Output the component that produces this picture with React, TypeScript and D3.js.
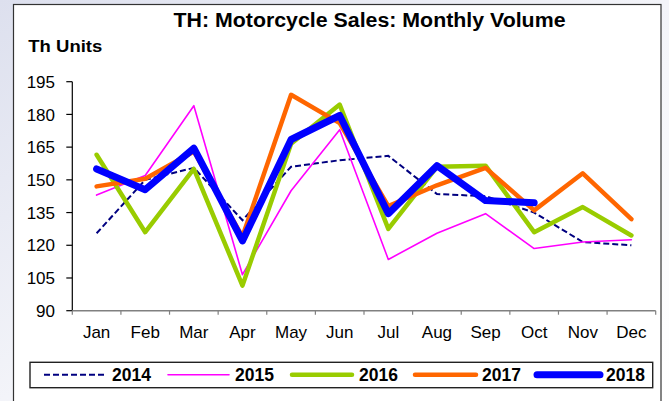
import React from "react";
import * as d3 from "d3";

const months = ["Jan", "Feb", "Mar", "Apr", "May", "Jun", "Jul", "Aug", "Sep", "Oct", "Nov", "Dec"];
const yTicks = [90, 105, 120, 135, 150, 165, 180, 195];

const s2014 = [125.5, 150, 155.5, 131.5, 156, 159, 161, 143.5, 142.5, 135, 121.5, 120];
const s2015 = [143, 152, 184, 106.5, 145, 173, 113.5, 125.5, 134.5, 118.5, 121.5, 122.5];
const s2016 = [161.5, 126, 155, 101.5, 166.5, 184.5, 127.5, 156, 156.5, 126, 137.5, 124.5];
const s2017 = [147, 150.5, 163, 124, 189, 176, 138, 147.5, 155.5, 136, 153, 132];
const s2018 = [155, 145.5, 164.5, 122, 168.5, 179.5, 134.5, 156.5, 140.5, 139.5];

const seriesNames = ["2014", "2015", "2016", "2017", "2018"];

export default function App() {
  const W = 669, H = 401;
  const left = 72.3, right = 655.7, top = 81.7, bottom = 310.7;
  const x = d3.scaleBand<string>().domain(months).range([left, right]).padding(0);
  const y = d3.scaleLinear().domain([90, 195]).range([bottom, top]);
  const cx = (i: number) => (x(months[i]) as number) + x.bandwidth() / 2;
  const line = d3.line<number>().x((_, i) => cx(i)).y((d) => y(d));

  const styles = [
    { data: s2014, color: "#000080", width: 2, dash: "6,3", cap: "butt" },
    { data: s2015, color: "#FF00FF", width: 1.6, dash: undefined, cap: "round" },
    { data: s2016, color: "#99CC00", width: 4.5, dash: undefined, cap: "round" },
    { data: s2017, color: "#FF6600", width: 4.5, dash: undefined, cap: "round" },
    { data: s2018, color: "#0000FF", width: 7, dash: undefined, cap: "round" },
  ];

  const legendItems = [
    { x1: 44, x2: 106, tx: 112 },
    { x1: 168, x2: 229, tx: 235 },
    { x1: 292, x2: 352, tx: 359 },
    { x1: 415, x2: 476, tx: 482 },
    { x1: 537, x2: 600, tx: 606 },
  ];
  const font = "Arial, 'Liberation Sans', sans-serif";

  return (
    <div style={{ position: "fixed", left: 0, top: 0, width: W, height: H, background: "#fff" }}>
      <svg width={W} height={H} style={{ display: "block" }} fontFamily={font}>
        <defs>
          <linearGradient id="bg" x1="0" y1="0" x2="1" y2="1">
            <stop offset="0" stopColor="#dde0ee" />
            <stop offset="0.5" stopColor="#f3f4f9" />
            <stop offset="1" stopColor="#ffffff" />
          </linearGradient>
        </defs>
        <rect x={0} y={0} width={W} height={H} fill="url(#bg)" />
        <rect x={13.5} y={4.5} width={647.5} height={H} fill="#fff" stroke="#333" strokeWidth={1.2} />

        <text x={369.5} y={26.5} textAnchor="middle" fontWeight="bold" fontSize={19.5} textLength={392} lengthAdjust="spacingAndGlyphs">
          TH: Motorcycle Sales: Monthly Volume
        </text>
        <text x={28.3} y={52.3} fontWeight="bold" fontSize={17} textLength={74} lengthAdjust="spacingAndGlyphs">
          Th Units
        </text>

        {/* y axis */}
        <line x1={left} x2={left} y1={top} y2={bottom} stroke="#000" strokeWidth={1.2} />
        {yTicks.map((t) => (
          <g key={t}>
            <line x1={left - 6} x2={left} y1={y(t)} y2={y(t)} stroke="#000" strokeWidth={1.2} />
            <text x={55} y={y(t)} dy="0.36em" textAnchor="end" fontSize={17}>
              {t}
            </text>
          </g>
        ))}

        {/* x axis */}
        <line x1={left} x2={right} y1={bottom} y2={bottom} stroke="#808080" strokeWidth={1.5} />
        {months.map((m, i) => (
          <line key={"t" + m} x1={x(m) as number} x2={x(m) as number} y1={bottom} y2={bottom + 4} stroke="#808080" strokeWidth={1.2} />
        ))}
        <line x1={right} x2={right} y1={bottom} y2={bottom + 4} stroke="#808080" strokeWidth={1.2} />
        {months.map((m, i) => (
          <text key={m} x={cx(i)} y={bottom + 21} dy="0.36em" textAnchor="middle" fontSize={17}>
            {m}
          </text>
        ))}

        {/* series */}
        {styles.map((s, k) => (
          <path
            key={seriesNames[k]}
            d={line(s.data) as string}
            fill="none"
            stroke={s.color}
            strokeWidth={s.width}
            strokeDasharray={s.dash}
            strokeLinejoin={s.dash ? "miter" : "round"}
            strokeLinecap={s.cap as any}
          />
        ))}

        {/* legend */}
        <rect x={30} y={362.3} width={622.7} height={25.4} fill="#fff" stroke="#222" strokeWidth={1.4} />
        {styles.map((s, k) => (
          <g key={"lg" + k}>
            <line
              x1={legendItems[k].x1}
              x2={legendItems[k].x2}
              y1={374.8}
              y2={374.8}
              stroke={s.color}
              strokeWidth={s.width}
              strokeDasharray={s.dash}
              strokeLinecap={s.cap as any}
            />
            <text x={legendItems[k].tx} y={374.8} dy="0.36em" fontWeight="bold" fontSize={17.5}>
              {seriesNames[k]}
            </text>
          </g>
        ))}
      </svg>
    </div>
  );
}
